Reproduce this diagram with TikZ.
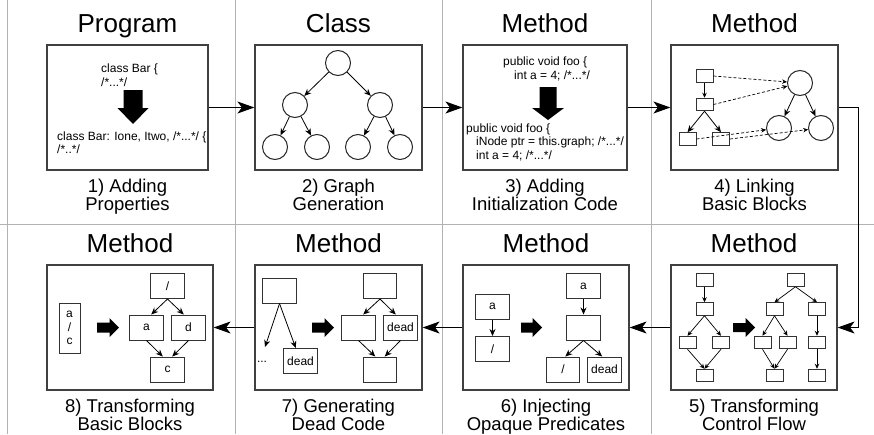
\documentclass[tikz,border=0pt]{standalone}
\usepackage{fontspec}
\setmainfont{Liberation Sans}
\usetikzlibrary{arrows.meta}
\newcommand{\codefont}{\fontsize{12}{13.5}\selectfont}
\tikzset{
  panel/.style={draw=black!75, line width=1.2pt, minimum height=125pt, inner sep=0pt},
  blk/.style={draw=black!80, line width=1pt, minimum width=17pt, minimum height=12.5pt, inner sep=0pt},
  lblk/.style={draw=black!80, line width=1pt, minimum width=33.5pt, minimum height=25pt, inner sep=0pt, font=\codefont},
  circ/.style={draw=black!85, circle, line width=1pt, minimum size=25pt, inner sep=0pt},
  code/.style={font=\codefont, align=left, inner sep=0pt, anchor=west},
  title/.style={font=\fontsize{26}{26}\selectfont, anchor=base},
  caption/.style={font=\fontsize{18.5}{17}\selectfont, align=center, anchor=north, inner sep=0pt},
  conn/.style={-{Stealth[length=17pt,width=12pt,inset=4.5pt]}, line width=1.1pt},
  flow/.style={-{Stealth[length=7pt,width=6pt]}, line width=0.8pt},
  flowsm/.style={-{Stealth[length=5pt,width=4.5pt]}, line width=0.7pt},
  link/.style={flowsm, dash pattern=on 3pt off 2pt},
  grid/.style={draw=black!30, line width=1pt},
  pics/fat/.style n args={4}{code={\fill (0,-#2) -- (#1-#4,-#2) -- (#1-#4,-#3) -- (#1,0) -- (#1-#4,#3) -- (#1-#4,#2) -- (0,#2) -- cycle;}}
}
\begin{document}
\begin{tikzpicture}[x=1pt,y=-1pt]
\useasboundingbox (0,0) rectangle (874,434);
% grid
\foreach \x in {7,235,442,651}
  \draw[grid] (\x,0) -- (\x,434);
\draw[grid] (0,224) -- (874,224);
% panels, titles, captions
\foreach \n/\x/\y/\w in {1/127.5/107.5/161pt, 2/338.5/107.5/167pt, 3/545/107.5/164pt, 4/754.5/107.5/167pt,
                        5/754/327.5/166pt, 6/546/327.5/166pt, 7/338.5/327.5/167pt, 8/130/327.5/166pt}
  \node[panel, minimum width=\w] (p\n) at (\x,\y) {};
\foreach \n/\t in {1/Program, 2/Class, 3/Method, 4/Method, 5/Method, 6/Method, 7/Method, 8/Method}
  \node[title] (t\n) at ([yshift=12pt]p\n.north) {\t};
\foreach \n/\c in {1/{1) Adding\\Properties}, 2/{2) Graph\\Generation}, 3/{3) Adding\\Initialization Code},
                   4/{4) Linking\\Basic Blocks}, 5/{5) Transforming\\Control Flow}, 6/{6) Injecting\\Opaque Predicates},
                   7/{7) Generating\\Dead Code}, 8/{8) Transforming\\Basic Blocks}}
  \node[caption] (c\n) at ([yshift=-8.5pt]p\n.south) {\c};
% connectors
\draw[conn] (p1) -- (p2);
\draw[conn] (p2) -- (p3);
\draw[conn] (p3) -- (p4);
\draw[conn] (p4.east) -- ++(20,0) |- (p5.east);
\draw[conn] (p5) -- (p6);
\draw[conn] (p6) -- (p7);
\draw[conn] (p7) -- (p8);
% 1) adding properties
\node[code] (bar) at (101,75) {class Bar \{\\/*...*/};
\pic[rotate=-90] at (133,90) {fat={34}{9.5}{15.5}{16}};
\node[code] (barnew) at (57,142.5) {class Bar: Ione, Itwo, /*...*/ \{\\/*..*/};
% 2) graph generation
\node[circ] (r) at (338,63) {};
\node[circ] (r1) at (295,105) {};
\node[circ] (r2) at (380,105) {};
\node[circ] (r11) at (275,147) {};
\node[circ] (r12) at (317,147) {};
\node[circ] (r21) at (358,147) {};
\node[circ] (r22) at (400,147) {};
\draw[flow] (r) -- (r1);
\draw[flow] (r) -- (r2);
\draw[flow] (r1) -- (r11);
\draw[flow] (r1) -- (r12);
\draw[flow] (r2) -- (r21);
\draw[flow] (r2) -- (r22);
% 3) initialization code
\node[code] (foo) at (503,69) {public void foo \{\\\hspace*{11pt}int a = 4; /*...*/};
\pic[rotate=-90] at (548,87) {fat={33}{8.5}{16}{12}};
\node[code] (foonew) at (466,142) {public void foo \{\\\hspace*{10pt}iNode ptr = this.graph; /*...*/\\\hspace*{10pt}int a = 4; /*...*/};
% 4) linking basic blocks
\node[blk] (ba) at (704.5,76) {};
\node[blk] (bb) at (704.5,104.5) {};
\node[blk] (bc) at (687.5,139) {};
\node[blk] (bd) at (721,139) {};
\node[circ] (ca) at (800,83) {};
\node[circ] (cb) at (779,128) {};
\node[circ] (cc) at (821,128) {};
\draw[flowsm] (ba) -- (bb);
\draw[flow] (bb.south) -- (bc.north);
\draw[flow] (bb.south) -- (bd.north);
\draw[flow] (ca) -- (cb);
\draw[flow] (ca) -- (cc);
\draw[link] (ba.east) -- (ca);
\draw[link] (bb.east) -- (ca);
\draw[link] (bc.east) -- (cb);
\draw[link] (bd.east) -- (cc);
% 5) control flow
\node[blk] (f1) at (704.5,280) {};
\node[blk] (f2) at (704.5,309) {};
\node[blk] (f3) at (687.5,342.5) {};
\node[blk] (f4) at (721,342.5) {};
\node[blk] (f5) at (704.5,375.5) {};
\pic at (733,327.5) {fat={22}{4.5}{9.5}{9.5}};
\node[blk] (g1) at (795.5,280) {};
\node[blk] (g2) at (774.5,309) {};
\node[blk] (g3) at (817,309) {};
\node[blk] (g4) at (762.5,342.5) {};
\node[blk] (g5) at (787.5,342.5) {};
\node[blk] (g6) at (817,342.5) {};
\node[blk] (g7) at (774.5,375.5) {};
\node[blk] (g8) at (817,375.5) {};
\foreach \a/\b in {f1/f2, f2/f3, f2/f4, f3/f5, f4/f5, g1/g2, g1/g3, g2/g4, g2/g5, g4/g7, g5/g7, g3/g6, g6/g8}
  \draw[flowsm] (\a.south) -- (\b.north);
% 6) opaque predicates
\node[lblk] (h1) at (492.5,306.5) {a};
\node[lblk] (h2) at (492.5,349) {/};
\pic at (521,327.5) {fat={21}{5}{9.5}{9.5}};
\node[lblk] (h3) at (583.5,286) {a};
\node[lblk] (h4) at (583.5,327.5) {};
\node[lblk] (h5) at (563,369.5) {/};
\node[lblk] (h6) at (604.5,369.5) {dead};
\draw[flow] (h1) -- (h2);
\draw[flow] (h3) -- (h4);
\draw[flow] (h4.south) -- (h5.80);
\draw[flow] (h4.south) -- (h6.100);
% 7) dead code
\node[lblk] (k1) at (279.5,290.5) {};
\node[lblk] (k2) at (300.5,361) {dead};
\coordinate (kend) at (265,347);
\node[font=\codefont, inner sep=0pt] (kdots) at (262,362) {...};
\pic at (312,327.5) {fat={22}{5}{9.5}{9.5}};
\node[lblk] (k3) at (380,286) {};
\node[lblk] (k4) at (358.5,327.5) {};
\node[lblk] (k5) at (400.5,327.5) {dead};
\node[lblk] (k6) at (380,369.5) {};
\draw[flow] (k1.south) -- (kend);
\draw[flow] (k1.south) -- (k2.110);
\draw[flow] (k3.south) -- (k4.70);
\draw[flow] (k3.south) -- (k5.110);
\draw[flow] (k4.south) -- (k6.110);
\draw[flow] (k5.south) -- (k6.70);
% 8) basic blocks
\node[lblk, minimum width=21pt, minimum height=50pt, align=center] (m0) at (69.5,328) {a\\/\\c};
\pic at (97,327.5) {fat={22}{5}{9.5}{9.5}};
\node[lblk] (m1) at (167.5,286) {/};
\node[lblk] (m2) at (146.5,327.5) {a};
\node[lblk] (m3) at (188.5,327.5) {d};
\node[lblk] (m4) at (167.5,369.5) {c};
\draw[flow] (m1.south) -- (m2.70);
\draw[flow] (m1.south) -- (m3.110);
\draw[flow] (m2.south) -- (m4.110);
\draw[flow] (m3.south) -- (m4.70);
\end{tikzpicture}
\end{document}
